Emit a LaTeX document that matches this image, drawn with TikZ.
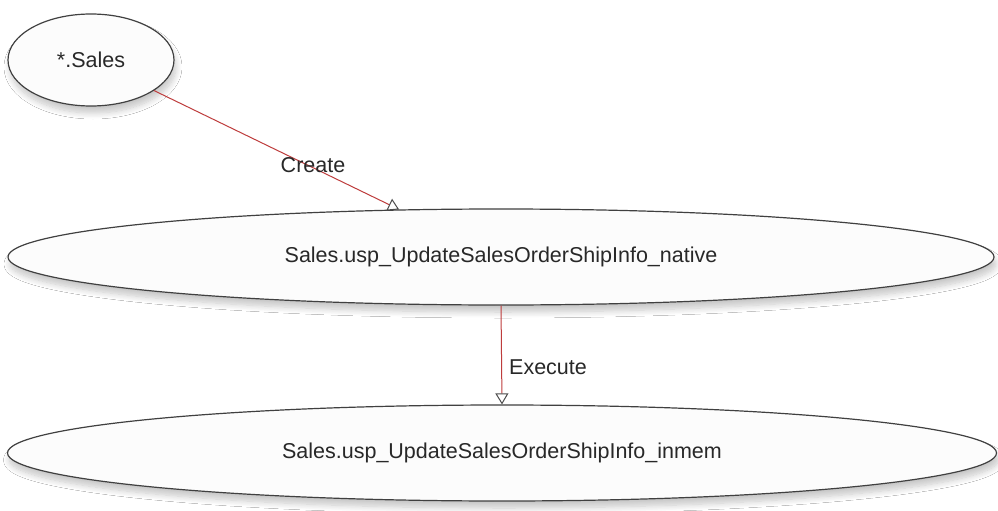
\documentclass[tikz,border=0pt]{standalone}
\usepackage{fontspec}
\setmainfont{Liberation Sans}
\usetikzlibrary{shapes.geometric,arrows.meta,shadows.blur}
\definecolor{edgered}{RGB}{190,60,60}
\definecolor{txt}{RGB}{40,40,40}
\definecolor{nodefill}{RGB}{252,252,252}
\begin{document}
\begin{tikzpicture}[x=1pt,y=-1pt,
  obj/.style={ellipse, draw=black!75, line width=1.2pt, fill=nodefill, inner sep=0pt,
    text=txt, font=\fontsize{21.5}{24}\selectfont,
    blur shadow={shadow xshift=2pt, shadow yshift=-7pt, shadow blur radius=6pt, shadow blur steps=10, shadow opacity=22}},
  rel/.style={draw=edgered, line width=1pt,
    -{Triangle[open, length=11pt, width=13pt, color=black!70, fill=white, line width=1pt]}},
  lbl/.style={text=txt, font=\fontsize{21.5}{24}\selectfont, inner sep=0pt}]
\useasboundingbox[fill=white] (0,0) rectangle (998,511);
\node[obj, minimum width=166pt, minimum height=92pt] (s) at (91,60) {*.Sales};
\node[obj, minimum width=986pt, minimum height=96pt] (n) at (501,257) {Sales.usp\_UpdateSalesOrderShipInfo\_native};
\node[obj, minimum width=989pt, minimum height=96pt] (m) at (502,453) {Sales.usp\_UpdateSalesOrderShipInfo\_inmem};
\draw[rel] (s) -- (n.155.5);
\draw[rel] (n.south) -- (m.north);
\node[lbl] (c) at (313,165) {Create};
\node[lbl] (e) at (548,367) {Execute};
\end{tikzpicture}
\end{document}
